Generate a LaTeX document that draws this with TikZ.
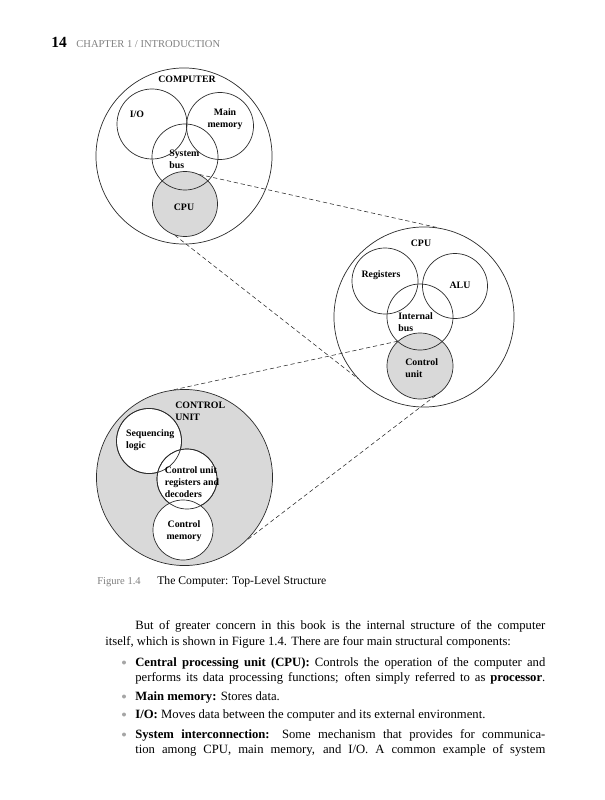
\documentclass[tikz,border=0pt]{standalone}
\usepackage{fontspec}
\setmainfont{Liberation Serif}
\usetikzlibrary{positioning}
\definecolor{cshade}{HTML}{D9D9D9}
\definecolor{cgrey}{HTML}{808080}
\definecolor{cline}{HTML}{2B2B2B}
\newlength\pxu \setlength\pxu{0.025cm}
\tikzset{
  every picture/.style={line width=0.5pt},
  part/.style={circle, draw=cline, inner sep=0pt, minimum size=#1*0.05cm},
  shaded/.style={fill=cshade},
  link/.style={draw=cline, dash pattern=on 3pt off 2pt, line width=0.4pt},
  lab/.style={font=\fontsize{7}{8.6}\selectfont\bfseries, align=left, inner sep=0pt},
  body/.style={font=\fontsize{9}{11}\selectfont, anchor=base west, inner sep=0pt},
}

\begin{document}
\begin{tikzpicture}[x=0.025cm, y=-0.025cm,
  head/.style={anchor=base west, inner sep=0pt},
  dot/.style={fill=cgrey!70}]
  \useasboundingbox (0,0) rectangle (604,800);
  % ---------- running head ----------
  \node[head, font=\fontsize{11}{13}\selectfont\bfseries] (pnum) at (51,48) {14};
  \node[head, font=\fontsize{7.5}{9}\selectfont, text=cgrey] (runhead) at (76,48) {CHAPTER 1 / INTRODUCTION};
  % ---------- computer ----------
  \node[part=88] (comp) at (184,156) {};
  \node[part=35] (io) at (152,124) {};
  \node[part=33.5] (mem) at (220,126) {};
  \node[part=32.5, shaded] (cpu) at (185,204) {};
  \node[part=33] (sbus) at (185,157) {};
  \node[lab] (tcomp) at (187,79) {COMPUTER};
  \node[lab] (tio) at (137,114) {I/O};
  \node[lab, align=center] (tmem) at (225,119.5) {Main\\memory};
  \node[lab, anchor=west] (tsbus) at (169,159.5) {System\\bus};
  \node[lab] (tcpu) at (184,207) {CPU};
  % ---------- cpu ----------
  \node[part=90] (cpubig) at (424,317) {};
  \node[part=33] (reg) at (385,281) {};
  \node[part=32.5] (alu) at (455,286) {};
  \node[part=33, shaded] (cu) at (420,366) {};
  \node[part=33] (ibus) at (420,317) {};
  \node[lab] (tcpubig) at (421,243) {CPU};
  \node[lab] (treg) at (381,275) {Registers};
  \node[lab] (talu) at (460,285) {ALU};
  \node[lab, anchor=west] (tibus) at (398,322.5) {Internal\\bus};
  \node[lab, anchor=west] (tcu) at (405,368) {Control\\unit};
  % ---------- control unit ----------
  \node[part=88, shaded] (cubig) at (184.5,477.5) {};
  \node[part=32.5, fill=white] (seq) at (149,441) {};
  \node[part=30, fill=white] (cureg) at (187,479) {};
  \node[part=30, fill=white] (cmem) at (183,530) {};
  \foreach \n/\r in {seq/32.5, cureg/30} \draw[cline] (\n.center) circle[radius=\r];
  \node[lab, anchor=west] (tcubig) at (175,411) {CONTROL\\UNIT};
  \node[lab, anchor=west] (tseq) at (125.7,440) {Sequencing\\logic};
  \node[lab, anchor=west] (tcureg) at (164.5,482.5) {Control unit\\registers and\\decoders};
  \node[lab, align=center] (tcmem) at (184,531.5) {Control\\memory};
  % zoom lines
  \draw[link] (cpu.64) -- (cpubig.81);
  \draw[link] (cpu.252) -- (cpubig.223);
  \draw[link] (cu.132) -- (cubig.97);
  \draw[link] (cu.-62) -- (cubig.-45);
  % ---------- caption ----------
  \node[head, font=\fontsize{7.5}{9}\selectfont, text=cgrey] (fignum) at (97,584) {Figure 1.4};
  \node[head, font=\fontsize{8.3}{10}\selectfont] (figcap) at (157,584) {The Computer: Top-Level Structure};
  % ---------- text ----------
  \node[body] (par1) at (135,629) {\makebox[410\pxu][s]{But of greater concern in this book is the internal structure of the computer}};
  \node[body] (par2) at (105,645) {itself, which is shown in Figure 1.4. There are four main structural components:};
  \node[body] (it1a) at (135,666) {\makebox[410\pxu][s]{\textbf{Central processing unit (CPU):} Controls the operation of the computer and}};
  \node[body] (it1b) at (135,681) {\makebox[410\pxu][s]{performs its data processing functions; often simply referred to as \textbf{processor}.}};
  \node[body] (it2) at (135,700) {\textbf{Main memory:} Stores data.};
  \node[body] (it3) at (135,718) {\textbf{I/O:} Moves data between the computer and its external environment.};
  \node[body] (it4a) at (135,738) {\makebox[410\pxu][s]{\textbf{System interconnection:} Some mechanism that provides for communica-}};
  \node[body] (it4b) at (135,753) {\makebox[410\pxu][s]{tion among CPU, main memory, and I/O. A common example of system}};
  \foreach \y in {662.5, 696.5, 714.5, 734.5} \fill[dot] (124,\y) circle[radius=2];
\end{tikzpicture}
\end{document}
